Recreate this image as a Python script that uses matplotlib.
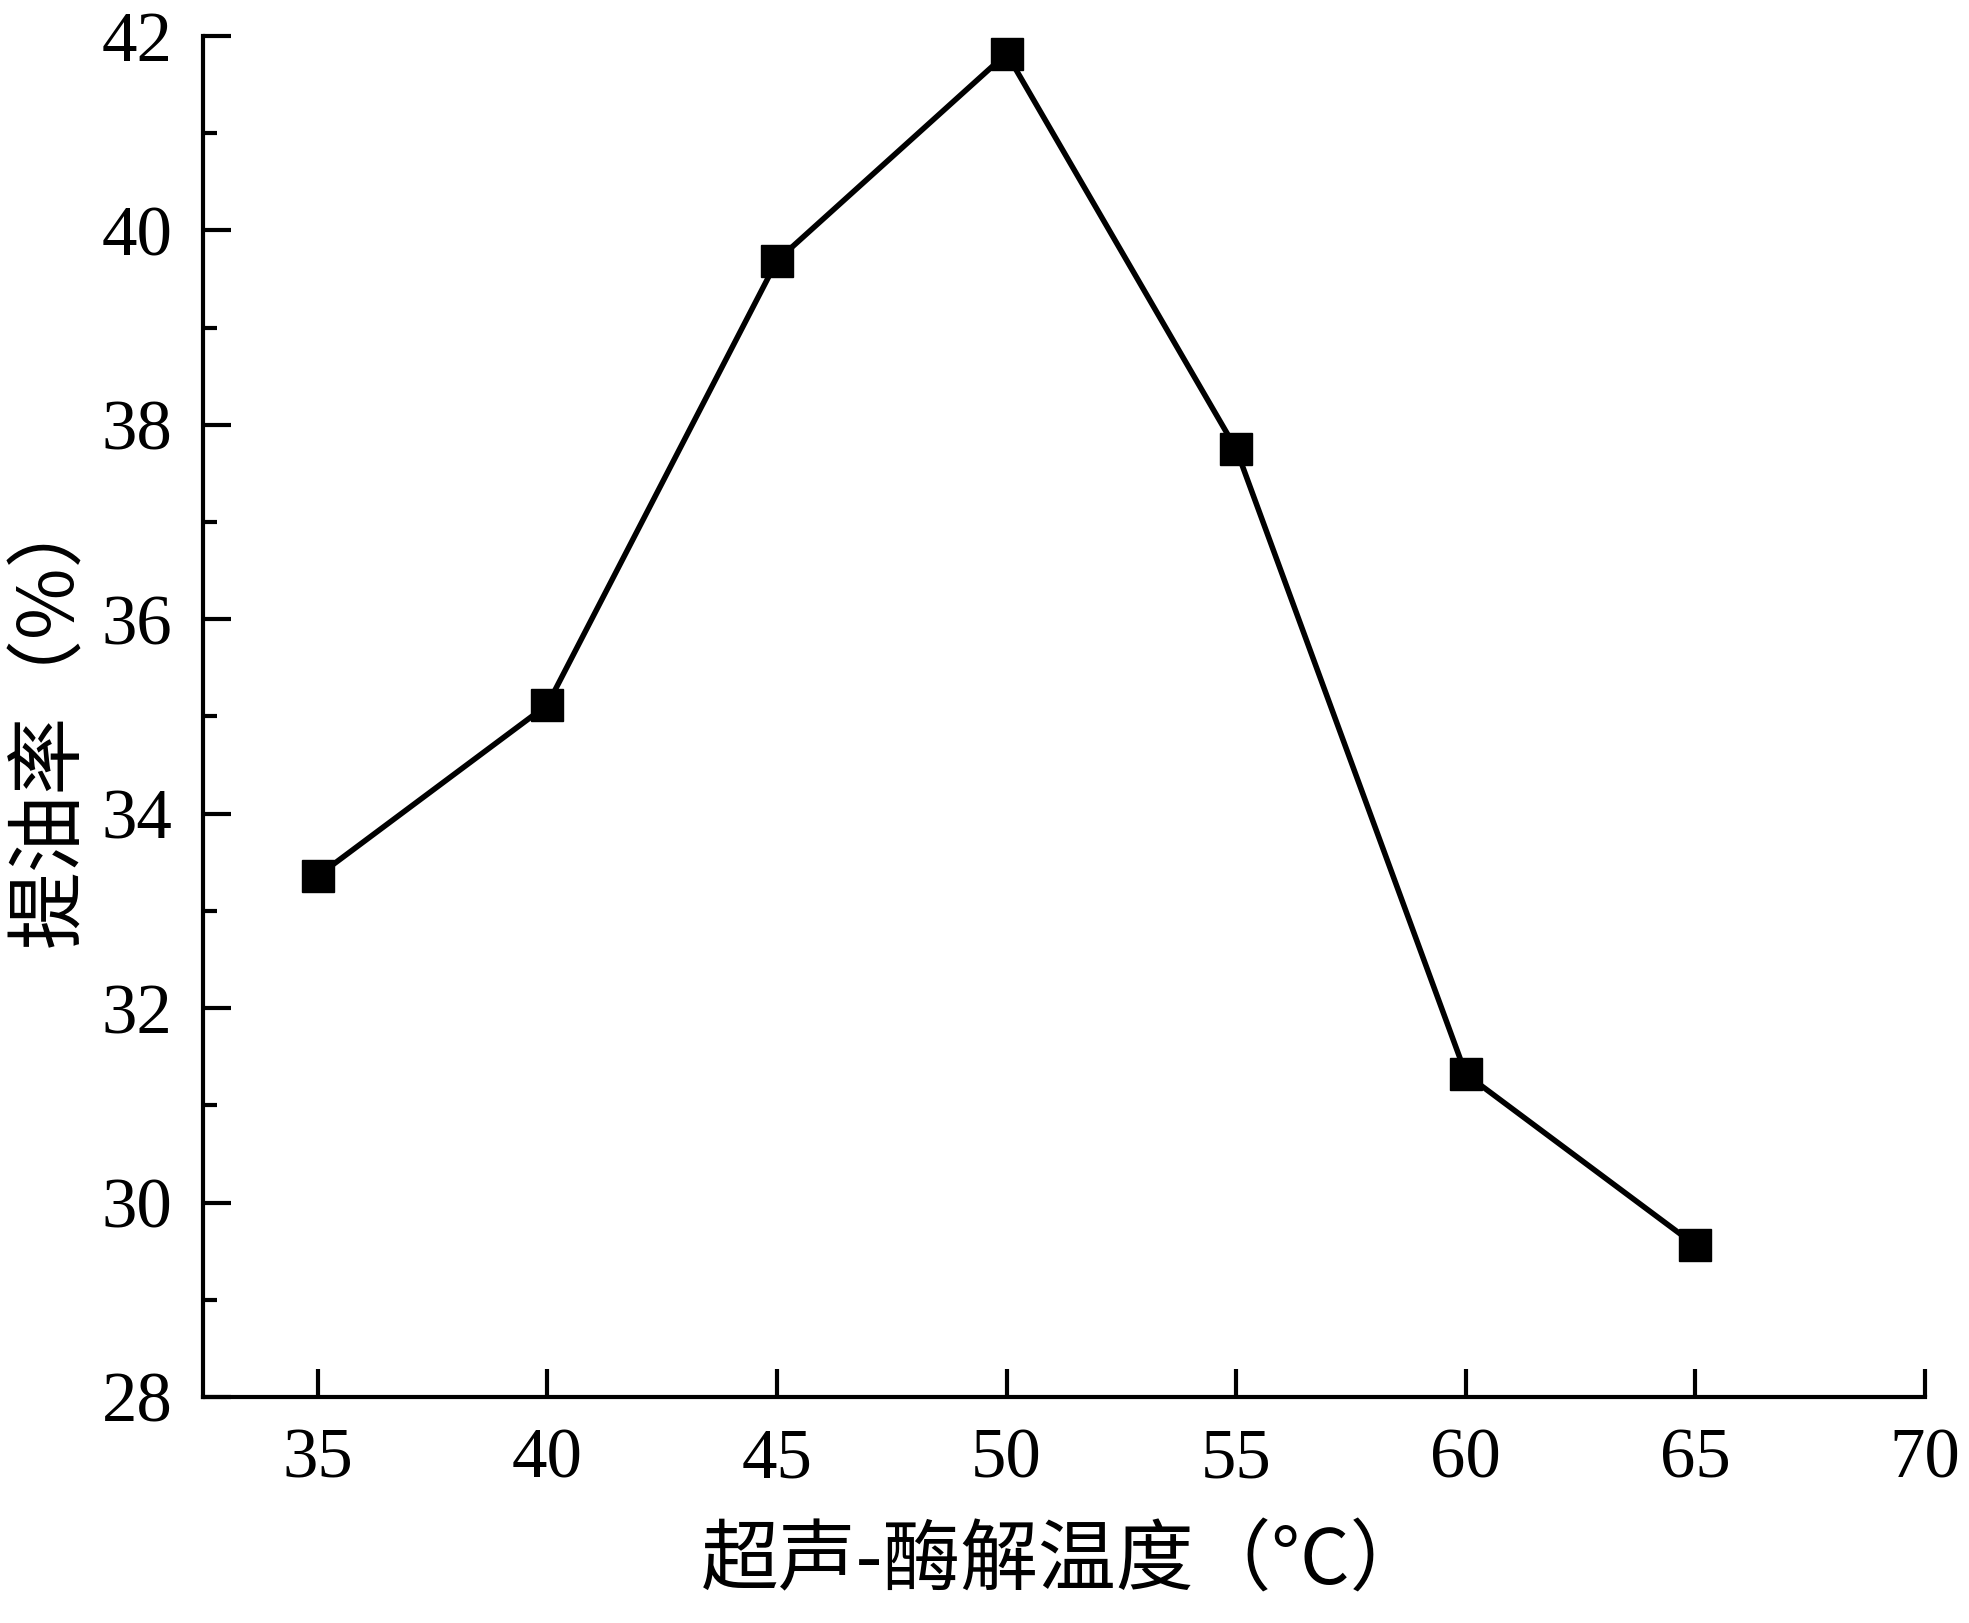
import matplotlib
matplotlib.use('Agg')
import matplotlib.pyplot as plt
from matplotlib.ticker import MultipleLocator

# 数据
temperature = [35, 40, 45, 50, 55, 60, 65]
oil_yield = [33.36, 35.12, 39.69, 41.82, 37.75, 31.32, 29.56]

x_label = '超声-酶解温度（°C）'
y_label = '提油率（%）'

plt.rcParams['font.family'] = ['Liberation Serif', 'Noto Sans CJK SC']

fig = plt.figure(figsize=(19.69, 16.23), dpi=100)
ax = fig.add_axes([0.1031, 0.1393, 0.8746, 0.8385])

ax.plot(temperature, oil_yield, color='black', linewidth=4,
        marker='s', markersize=23, clip_on=False)

ax.set_xlim(32.5, 70)
ax.set_ylim(28, 42)
ax.xaxis.set_major_locator(MultipleLocator(5))
ax.yaxis.set_major_locator(MultipleLocator(2))
ax.yaxis.set_minor_locator(MultipleLocator(1))

ax.spines['top'].set_visible(False)
ax.spines['right'].set_visible(False)
for s in ['left', 'bottom']:
    ax.spines[s].set_linewidth(3)

ax.tick_params(axis='both', which='major', direction='in', length=20, width=3,
               labelsize=51, pad=22)
ax.tick_params(axis='y', which='minor', direction='in', length=10, width=3)

ax.set_xlabel(x_label, fontsize=56, family=['Noto Sans CJK SC'], labelpad=22)
ax.set_ylabel(y_label, fontsize=56, family=['Noto Sans CJK SC'], labelpad=8)

fig.savefig('out.png', dpi=100)
